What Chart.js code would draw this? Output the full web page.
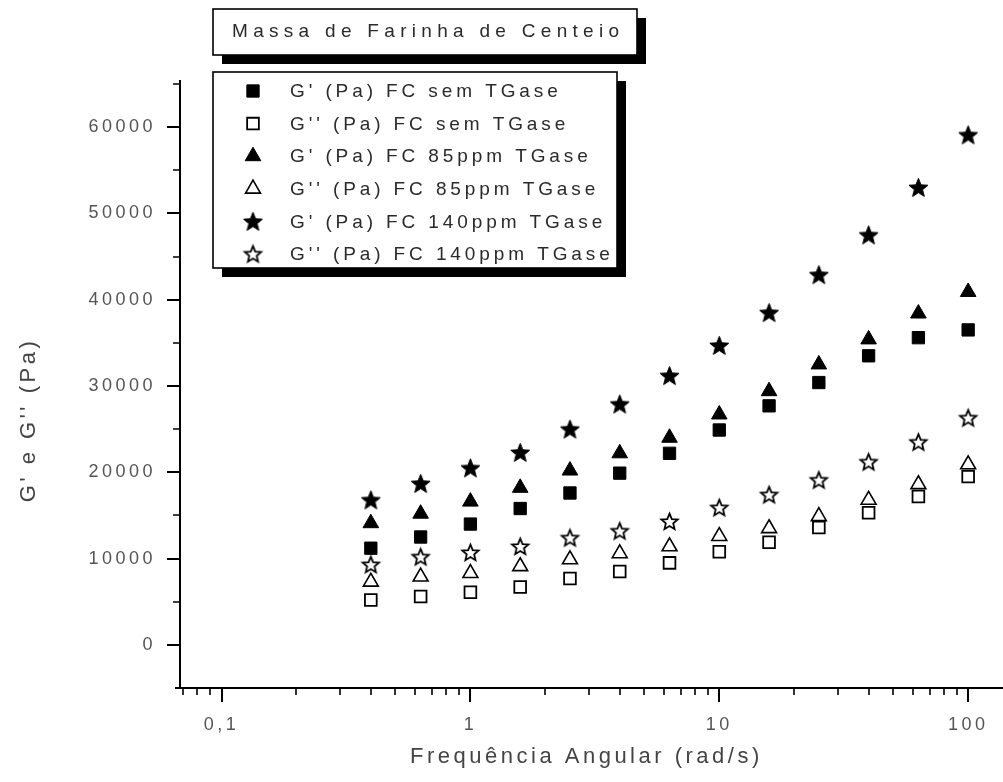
<!DOCTYPE html>
<html>
<head>
<meta charset="utf-8">
<title>Massa de Farinha de Centeio</title>
<script src="https://cdn.jsdelivr.net/npm/chart.js@4.4.1/dist/chart.umd.min.js"></script>
<style>
  html, body { margin: 0; padding: 0; background: #ffffff; }
  canvas { display: block; }
</style>
</head>
<body>
<canvas id="chart" width="1003" height="782"></canvas>
<script>
// Angular frequency (rad/s), five points per decade
const frequencies = [0.398, 0.631, 1, 1.585, 2.512, 3.981, 6.310, 10, 15.85, 25.12, 39.81, 63.10, 100];

// Moduli (Pa) for rye flour dough
const gLinhaSem     = [11200, 12500, 14000, 15800, 17600, 19900, 22200, 24900, 27700, 30400, 33500, 35600, 36500];
const gDuasLinhasSem = [5200, 5600, 6100, 6700, 7700, 8500, 9500, 10800, 11900, 13600, 15300, 17200, 19500];
const gLinha85      = [14100, 15200, 16600, 18200, 20200, 22200, 24000, 26700, 29400, 32500, 35400, 38400, 40900];
const gDuasLinhas85 = [7300, 7900, 8300, 9100, 9900, 10600, 11400, 12600, 13500, 14900, 16800, 18600, 20900];
const gLinha140     = [16800, 18700, 20500, 22300, 25000, 27900, 31200, 34700, 38500, 42900, 47500, 53000, 59100];
const gDuasLinhas140 = [9300, 10200, 10700, 11400, 12400, 13200, 14300, 15900, 17400, 19100, 21200, 23500, 26300];

const seriesLabels = [
  "G' (Pa) FC sem TGase",
  "G'' (Pa) FC sem TGase",
  "G' (Pa) FC 85ppm TGase",
  "G'' (Pa) FC 85ppm TGase",
  "G' (Pa) FC 140ppm TGase",
  "G'' (Pa) FC 140ppm TGase"
];

// Axis ticks
const xMajorTicks = [0.1, 1, 10, 100];
const xMajorLabels = ['0,1', '1', '10', '100'];
const xMinorTicks = [0.07, 0.08, 0.09, 0.2, 0.3, 0.4, 0.5, 0.6, 0.7, 0.8, 0.9,
                     2, 3, 4, 5, 6, 7, 8, 9, 20, 30, 40, 50, 60, 70, 80, 90];
const yMajorTicks = [0, 10000, 20000, 30000, 40000, 50000, 60000];
const yMinorTicks = [5000, 15000, 25000, 35000, 45000, 55000, 65000];

const chartTitle = 'Massa de Farinha de Centeio';
const xTitle = 'Frequência Angular (rad/s)';
const yTitle = "G' e G'' (Pa)";

const FONT = "'Liberation Sans', Arial, sans-serif";

// Five-pointed star markers
function starMarker(outer, inner, fill, lineWidth) {
  const size = Math.ceil(2 * outer + lineWidth + 4);
  const c = document.createElement('canvas');
  c.width = size; c.height = size;
  const g = c.getContext('2d');
  g.translate(size / 2, size / 2 + outer * 0.08);
  g.beginPath();
  for (let k = 0; k < 10; k++) {
    const r = k % 2 ? inner : outer;
    const a = -Math.PI / 2 + k * Math.PI / 5;
    g.lineTo(r * Math.cos(a), r * Math.sin(a));
  }
  g.closePath();
  g.fillStyle = fill;
  g.fill();
  g.lineWidth = lineWidth;
  g.lineJoin = 'miter';
  g.strokeStyle = '#000';
  g.stroke();
  return c;
}
const filledStar = starMarker(10, 4.3, '#000', 1);
const openStar = starMarker(8.6, 3.9, '#fff', 1.8);

function toPoints(values) {
  return values.map((v, i) => ({ x: frequencies[i], y: v }));
}

const markerDefs = [
  { values: gLinhaSem,      style: 'rect',     fill: '#000', radius: 8.7, border: 1 },
  { values: gDuasLinhasSem, style: 'rect',     fill: '#fff', radius: 8.3, border: 1.8 },
  { values: gLinha85,       style: 'triangle', fill: '#000', radius: 9,   border: 1 },
  { values: gDuasLinhas85,  style: 'triangle', fill: '#fff', radius: 8.6, border: 1.6 },
  { values: gLinha140,      style: filledStar, fill: '#000', radius: 10,  border: 0 },
  { values: gDuasLinhas140, style: openStar,   fill: '#fff', radius: 9,   border: 0 }
];

const datasets = markerDefs.map((m, i) => ({
  label: seriesLabels[i],
  data: toPoints(m.values),
  showLine: false,
  pointStyle: m.style,
  pointRadius: m.radius,
  pointBackgroundColor: m.fill,
  pointBorderColor: '#000',
  pointBorderWidth: m.border,
  order: markerDefs.length - 1 - i
}));

// Axes, tick marks, framed title and legend
const frame = {
  id: 'frame',
  beforeDraw(chart) {
    chart.ctx.letterSpacing = '3.5px';
  },
  afterDraw(chart) {
    const ctx = chart.ctx;
    const xs = chart.scales.x, ys = chart.scales.y;
    const area = chart.chartArea;
    ctx.save();
    ctx.letterSpacing = '0px';
    ctx.strokeStyle = '#000';

    // axis lines
    ctx.lineWidth = 2;
    ctx.beginPath();
    ctx.moveTo(area.left, area.top - 4);
    ctx.lineTo(area.left, area.bottom + 1);
    ctx.moveTo(area.left - 5, area.bottom);
    ctx.lineTo(chart.width, area.bottom);
    ctx.stroke();

    // tick marks
    ctx.beginPath();
    yMajorTicks.forEach(v => { const p = Math.round(ys.getPixelForValue(v)); ctx.moveTo(area.left - 13, p); ctx.lineTo(area.left, p); });
    xMajorTicks.forEach(v => { const p = Math.round(xs.getPixelForValue(v)); ctx.moveTo(p, area.bottom); ctx.lineTo(p, area.bottom + 14); });
    ctx.stroke();
    ctx.lineWidth = 1.6;
    ctx.beginPath();
    yMinorTicks.forEach(v => { const p = Math.round(ys.getPixelForValue(v)); ctx.moveTo(area.left - 7, p); ctx.lineTo(area.left, p); });
    xMinorTicks.forEach(v => { const p = Math.round(xs.getPixelForValue(v)); ctx.moveTo(p, area.bottom); ctx.lineTo(p, area.bottom + 7); });
    ctx.stroke();

    // y axis title
    ctx.save();
    ctx.translate(29, 420);
    ctx.rotate(-Math.PI / 2);
    ctx.font = '22px ' + FONT;
    ctx.letterSpacing = '3.5px';
    ctx.fillStyle = '#444';
    ctx.textAlign = 'center';
    ctx.textBaseline = 'middle';
    ctx.fillText(yTitle, 0, 0);
    ctx.restore();

    // boxes with drop shadow
    function shadowBox(x, y, w, h) {
      ctx.fillStyle = '#000';
      ctx.fillRect(x + 9, y + 9, w, h);
      ctx.fillStyle = '#fff';
      ctx.fillRect(x, y, w, h);
      ctx.lineWidth = 1.6;
      ctx.strokeStyle = '#000';
      ctx.strokeRect(x, y, w, h);
    }

    shadowBox(213, 9, 424, 46);
    ctx.font = '19px ' + FONT;
    ctx.letterSpacing = '5.3px';
    ctx.fillStyle = '#2a2a2a';
    ctx.textAlign = 'left';
    ctx.textBaseline = 'middle';
    ctx.fillText(chartTitle, 232, 32);

    shadowBox(213, 72, 404, 196);
    ctx.letterSpacing = '3.9px';
    chart.data.datasets.forEach((ds, i) => {
      const cy = 91 + i * 32.6;
      ctx.fillStyle = ds.pointBackgroundColor;
      ctx.strokeStyle = '#000';
      ctx.lineWidth = ds.pointBorderWidth;
      Chart.helpers.drawPoint(ctx, {
        pointStyle: ds.pointStyle,
        radius: ds.pointRadius,
        rotation: 0,
        borderWidth: ds.pointBorderWidth
      }, 253, cy);
      ctx.fillStyle = '#2a2a2a';
      ctx.fillText(ds.label, 290, cy + 1);
    });
    ctx.restore();
  }
};

new Chart(document.getElementById('chart'), {
  type: 'scatter',
  data: { datasets },
  plugins: [frame],
  options: {
    responsive: false,
    devicePixelRatio: 1,
    animation: false,
    events: [],
    layout: { padding: { top: 84, left: 0, right: 0, bottom: 0 } },
    plugins: {
      legend: { display: false },
      tooltip: { enabled: false },
      title: { display: false }
    },
    scales: {
      x: {
        type: 'logarithmic',
        min: 0.0681,
        max: 125.6,
        grid: { display: false },
        border: { display: false },
        afterBuildTicks(scale) {
          scale.ticks = xMajorTicks.map(v => ({ value: v, major: true }));
        },
        afterFit(scale) {
          scale.height = 94;
          scale.paddingLeft = 0;
          scale.paddingRight = 0;
        },
        ticks: {
          autoSkip: false,
          maxRotation: 0,
          padding: 18,
          color: '#555',
          font: { family: FONT, size: 18 },
          callback(value) {
            const k = xMajorTicks.indexOf(value);
            return k >= 0 ? xMajorLabels[k] : '';
          }
        },
        title: {
          display: true,
          text: xTitle,
          color: '#444',
          font: { family: FONT, size: 22 },
          padding: { top: 0, bottom: 12 }
        }
      },
      y: {
        type: 'linear',
        min: -5000,
        max: 65000,
        grid: { display: false },
        border: { display: false },
        afterBuildTicks(scale) {
          scale.ticks = yMajorTicks.map(v => ({ value: v }));
        },
        afterFit(scale) {
          scale.width = 180;
          scale.paddingTop = 0;
          scale.paddingBottom = 0;
        },
        ticks: {
          padding: 16,
          color: '#555',
          font: { family: FONT, size: 18 },
          callback(value) { return String(value); }
        }
      }
    }
  }
});
</script>
</body>
</html>
